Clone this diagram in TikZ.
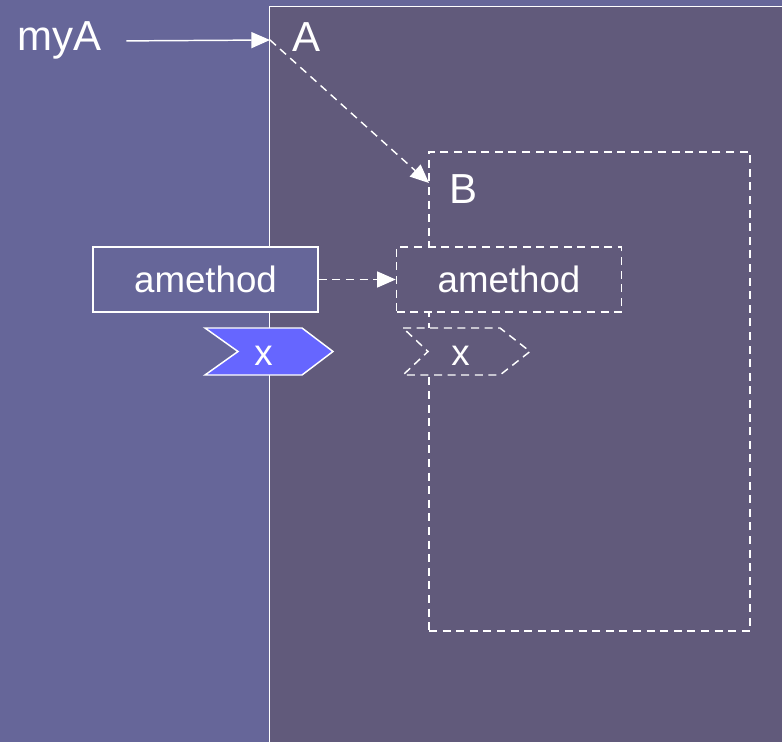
\documentclass[tikz,border=0pt]{standalone}
\usepackage{fontspec}
\setmainfont{Liberation Sans}
\usetikzlibrary{arrows.meta,calc}
\definecolor{outerbg}{HTML}{666699}
\definecolor{innerbg}{HTML}{615A7B}
\definecolor{argfill}{HTML}{6666FF}
\begin{document}
\begin{tikzpicture}[x=0.75pt,y=-0.75pt,
  line width=1.1pt,
  bigtext/.style={text=white,inner sep=0pt,font=\fontsize{31.5}{36}\selectfont},
  smalltext/.style={text=white,inner sep=0pt,font=\fontsize{27.5}{32}\selectfont},
  solidframe/.style={draw=white,line width=1.1pt},
  dashframe/.style={draw=white,dash pattern=on 6pt off 4.2pt,line width=1.1pt},
  methodbox/.style={minimum width=225*0.75pt,minimum height=65*0.75pt,inner sep=0pt,text=white,font=\fontsize{27.5}{32}\selectfont},
  reflink/.style={white,line width=1.1pt,-{Triangle[length=14pt,width=12pt]}},
  dreflink/.style={reflink,dash pattern=on 6pt off 4.2pt}]
\useasboundingbox (0,0) rectangle (782,742);
\clip (0,0) rectangle (782,742);
% backgrounds
\fill[outerbg] (0,0) rectangle (782,742);
\path[solidframe,fill=innerbg] (269.5,6.5) rectangle (800,760);
% object B
\node[dashframe,minimum width=321*0.75pt,minimum height=479*0.75pt,inner sep=0pt] (bbox) at (589.5,391.5) {};
% method boxes
\node[methodbox,solidframe,fill=outerbg] (m1) at (205.5,279.5) {amethod};
\node[methodbox,dashframe,fill=innerbg] (m2) at (509,279.5) {amethod};
% argument tags
\path[solidframe,fill=argfill] (205,328) -- (302,328) -- (333,351.5) -- (302,375) -- (205,375) -- (238,351.5) -- cycle;
\node[smalltext] (x1) at (263.5,356) {x};
\path[dashframe,fill=innerbg] (403,328) -- (500,328) -- (530,351.5) -- (500,375) -- (403,375) -- (428,351.5) -- cycle;
\node[smalltext] (x2) at (460.5,356) {x};
% labels
\node[bigtext,anchor=base west] (myA) at (17,51) {myA};
\node[bigtext,anchor=base west] (A) at (292,52) {A};
\node[bigtext,anchor=base west] (B) at (449,203) {B};
% references
\coordinate (aport) at (270,40);
\coordinate (bport) at (429,183);
\draw[reflink] ($(myA.east)+(24,0)$) -- (aport);
\draw[dreflink] (aport) -- (bport);
\draw[dreflink] (m1.east) -- (m2.west);
\end{tikzpicture}
\end{document}
